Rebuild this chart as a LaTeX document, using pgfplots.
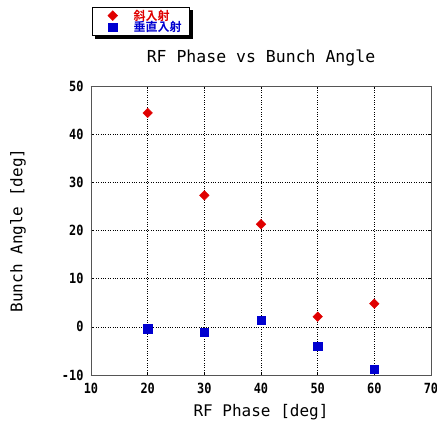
\documentclass[border=0pt]{standalone}
\usepackage{fontspec}
\usepackage{pgfplots}
\pgfplotsset{compat=1.18}
\usetikzlibrary{shadows,calc}
\setmainfont{DejaVu Sans Mono}
\newfontfamily\jp{Noto Sans CJK JP Bold}
\newfontfamily\tickfont[FakeStretch=0.85]{DejaVu Sans Mono Bold}
\definecolor{cRed}{HTML}{E00000}
\definecolor{cBlue}{HTML}{0000D0}
\definecolor{cAx}{HTML}{555555}
\begin{document}
\begin{tikzpicture}
\begin{axis}[
  scale only axis, width=340bp, height=289bp,
  xmin=10, xmax=70, ymin=-10, ymax=50,
  xtick={10,20,30,40,50,60,70}, xticklabels={10,20,30,40,50,60,70},
  ytick={-10,0,10,20,30,40,50}, yticklabels={-10,0,10,20,30,40,50},
  tick label style={font=\tickfont\fontsize{14bp}{14bp}\selectfont, color=black},
  xticklabel style={yshift=-5bp},
  yticklabel style={xshift=-4bp},
  tick align=inside, major tick length=3bp, tick style={draw=black, line width=0.5pt},
  axis line style={draw=cAx, line width=0.8pt},
  grid=major, major grid style={black, dotted, line width=0.6pt},
  title={RF Phase vs Bunch Angle},
  title style={at={(axis description cs:0.5,1)}, anchor=center, yshift=22bp, font=\fontsize{16.5bp}{16.5bp}\selectfont},
  xlabel={RF Phase [deg]},
  xlabel style={at={(axis description cs:0.5,0)}, anchor=center, yshift=-37bp, font=\fontsize{16bp}{16bp}\selectfont},
  ylabel={Bunch Angle [deg]},
  ylabel style={at={(axis description cs:-0.2147,0.5)}, anchor=center, font=\fontsize{16bp}{16bp}\selectfont},
  legend style={at={(axis description cs:0,1)}, anchor=south west, xshift=1bp, yshift=50bp,
    draw=black, line width=0.6pt, fill=white,
    drop shadow={shadow xshift=3bp, shadow yshift=-3bp, fill=black, opacity=1},
    font=\jp\fontsize{12bp}{12bp}\selectfont, row sep=-4bp, inner xsep=6bp, inner ysep=0.5bp,
    cells={anchor=west}},
  legend cell align=left,
  legend image code/.code={\path (0cm,0cm) (0.6cm,0cm);
    \draw[#1] plot coordinates {(0.5cm,0cm)};},
]
\addplot[only marks, mark=square*, mark size=3.4bp, mark options={rotate=45, fill=cRed, draw=cRed}]
  coordinates {(20,44.4) (30,27.3) (40,21.3) (50,2.1) (60,4.8)};
\addlegendentry{\hspace{14bp}\textcolor{cRed}{斜入射}}
\addplot[only marks, mark=square*, mark size=4.3bp, mark options={fill=cBlue, draw=cBlue}]
  coordinates {(20,-0.4) (30,-1.1) (40,1.4) (50,-4.0) (60,-8.8)};
\addlegendentry{\hspace{14bp}\textcolor{cBlue}{垂直入射}}
\end{axis}
\pgfresetboundingbox
\path[use as bounding box] ($(current axis.south west)+(-91bp,-51bp)$) rectangle ++(437bp,426bp);
\end{tikzpicture}
\end{document}
